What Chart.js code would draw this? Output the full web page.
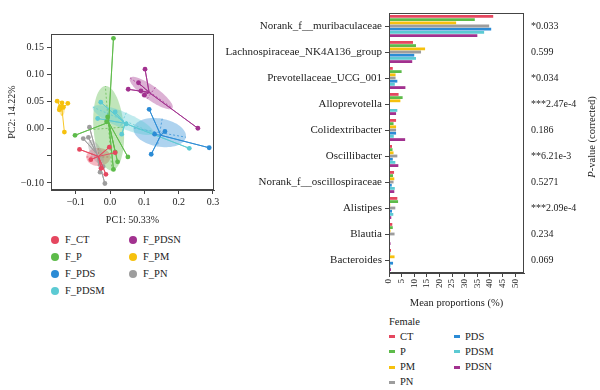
<!DOCTYPE html>
<html>
<head>
<meta charset="utf-8">
<title>PCA and mean proportions</title>
<script src="https://cdn.jsdelivr.net/npm/chart.js@4.4.0/dist/chart.umd.min.js"></script>
<style>
body{margin:0;background:#fff;font-family:'Liberation Serif',serif;color:#222;}
#wrap{position:relative;width:600px;height:390px;overflow:hidden;}
canvas{position:absolute;}
.lg{position:absolute;font-size:10.5px;line-height:12px;height:12px;white-space:nowrap;}
.dot{position:absolute;width:8px;height:8px;border-radius:50%;}
.dash{position:absolute;width:6px;height:3px;}
</style>
</head>
<body>
<div id="wrap">
<canvas id="pca" width="225" height="230" style="left:0;top:0;"></canvas>
<canvas id="bars" width="375" height="312" style="left:225px;top:0;"></canvas>
<div class="lg" style="left:532px;top:131px;width:120px;text-align:center;transform:rotate(-90deg);"><i>P</i>-value (corrected)</div>
</div>

<script>
// ---- PCA (left) ----
var groups = ['F_CT', 'F_P', 'F_PDS', 'F_PDSM', 'F_PDSN', 'F_PM', 'F_PN'];
var groupColors = ['#e5475f', '#5dbb4a', '#2b8bd5', '#5ccad3', '#a2318f', '#f6c10e', '#9d9d9d'];

var ctCentroid = [-0.034, -0.051];
var ctPoints = [[-0.089, -0.038], [-0.056, -0.057], [-0.012, -0.084], [-0.026, -0.073], [-0.002, -0.034], [0.015, -0.044]];
var pCentroid = [-0.004, 0.012];
var pPoints = [[0.010, 0.167], [-0.102, -0.012], [0.052, -0.052], [0.010, -0.075], [0.022, -0.061], [-0.007, 0.022], [-0.010, 0.013], [0.015, -0.043]];
var pdsCentroid = [0.148, -0.012];
var pdsPoints = [[0.114, 0.036], [0.120, -0.047], [0.289, -0.035], [0.160, -0.005], [0.130, -0.010]];
var pdsmCentroid = [0.044, 0.010];
var pdsmPoints = [[-0.027, 0.049], [-0.036, 0.019], [0.015, 0.031], [0.034, -0.010], [0.231, -0.036], [0.047, 0.009]];
var pdsnCentroid = [0.114, 0.067];
var pdsnPoints = [[0.102, 0.110], [0.083, 0.085], [0.053, 0.073], [0.100, 0.062], [0.256, 0.001], [0.090, 0.070]];
var pmCentroid = [-0.140, 0.036];
var pmPoints = [[-0.154, 0.051], [-0.140, 0.048], [-0.123, 0.047], [-0.146, 0.040], [-0.136, 0.040], [-0.148, 0.035], [-0.133, -0.006]];
var pnCentroid = [-0.039, -0.046];
var pnPoints = [[-0.060, 0.003], [-0.078, -0.018], [-0.063, -0.016], [-0.020, -0.070], [-0.015, -0.101], [-0.029, -0.080]];

// ellipse: centre x, centre y, semi-axis a (dx, dy), semi-axis b (dx, dy)
var ctEllipse = [-0.034, -0.052, 0.035, 0, 0, 0.0167];
var pEllipse = [-0.004, 0.001, -0.0096, 0.078, 0.044, 0.002];
var pdsEllipse = [0.145, -0.007, 0.076, -0.0085, -0.007, -0.0256];
var pdsmEllipse = [0.038, 0.016, -0.088, 0.024, -0.0092, -0.0136];
var pdsnEllipse = [0.120, 0.066, 0.0617, -0.028, -0.0119, -0.0106];
var pmEllipse = [-0.140, 0.036, 0, 0.012, 0.008, 0];
var pnEllipse = [-0.041, -0.043, 0.0175, -0.022, 0.0146, 0.0046];

var pcaXTicks = [-0.1, 0, 0.1, 0.2, 0.3];
var pcaXLabels = ['\u22120.1', '0.0', '0.1', '0.2', '0.3'];
var pcaYTicks = [-0.10, -0.05, 0, 0.05, 0.10, 0.15];
var pcaYLabels = ['\u22120.10', '', '0.00', '0.05', '0.10', '0.15'];

// ---- mean proportions (right) ----
var taxa = ['Norank_f__muribaculaceae', 'Lachnospiraceae_NK4A136_group', 'Prevotellaceae_UCG_001', 'Alloprevotella',
  'Colidextribacter', 'Oscillibacter', 'Norank_f__oscillospiraceae', 'Alistipes', 'Blautia', 'Bacteroides'];
var pValues = ['*0.033', '0.599', '*0.034', '***2.47e-4', '0.186', '**6.21e-3', '0.5271', '***2.09e-4', '0.234', '0.069'];
var barGroups = ['CT', 'P', 'PM', 'PN', 'PDS', 'PDSM', 'PDSN'];
var barColors = ['#e5475f', '#5dbb4a', '#f6c10e', '#9d9d9d', '#2b8bd5', '#5ccad3', '#a2318f'];
var ctMeans   = [41.3, 9.5, 1.5, 3.8, 2.8, 1.2, 2.0, 3.3, 1.3, 0.8];
var pMeans    = [34.0, 10.7, 5.0, 5.4, 1.8, 1.4, 1.6, 3.6, 1.5, 0.5];
var pmMeans   = [26.6, 14.3, 2.6, 4.5, 2.8, 1.8, 2.1, 0.5, 0.6, 2.2];
var pnMeans   = [39.7, 12.7, 2.6, 0.1, 2.8, 3.3, 1.8, 2.5, 2.2, 0.4];
var pdsMeans  = [40.5, 10.0, 3.3, 0.2, 2.8, 1.5, 1.1, 1.2, 0.2, 1.6];
var pdsmMeans = [37.7, 10.7, 2.3, 3.3, 1.9, 2.5, 2.3, 1.7, 0.4, 0.6];
var pdsnMeans = [35.0, 9.2, 6.5, 2.8, 6.4, 3.7, 2.1, 0.9, 0.6, 0.8];
var propTicks = [0, 5, 10, 15, 20, 25, 30, 35, 40, 45, 50];

Chart.defaults.font.family = "'Liberation Serif', serif";
Chart.defaults.color = '#222';

function alpha(hex, a) {
  var n = parseInt(hex.slice(1), 16);
  return 'rgba(' + (n >> 16) + ',' + ((n >> 8) & 255) + ',' + (n & 255) + ',' + a + ')';
}

var boxPlugin = {
  id: 'box',
  afterDraw: function(chart) {
    var a = chart.chartArea, c = chart.ctx;
    c.save();
    c.strokeStyle = '#444';
    c.lineWidth = 1;
    c.strokeRect(Math.round(a.left) + 0.5, Math.round(a.top) + 0.5, Math.round(a.right - a.left) - 1, Math.round(a.bottom - a.top) - 1);
    c.restore();
  }
};

var ellipses = [ctEllipse, pEllipse, pdsEllipse, pdsmEllipse, pdsnEllipse, pmEllipse, pnEllipse];
var ellipsePlugin = {
  id: 'ellipses',
  beforeDatasetsDraw: function(chart) {
    var xs = chart.scales.x, ys = chart.scales.y, c = chart.ctx, ar = chart.chartArea;
    c.save();
    c.beginPath();
    c.rect(ar.left, ar.top, ar.right - ar.left, ar.bottom - ar.top);
    c.clip();
    ellipses.forEach(function(e, i) {
      var cx = xs.getPixelForValue(e[0]), cy = ys.getPixelForValue(e[1]);
      var ax = xs.getPixelForValue(e[0] + e[2]) - cx, ay = ys.getPixelForValue(e[1] + e[3]) - cy;
      var bx = xs.getPixelForValue(e[0] + e[4]) - cx, by = ys.getPixelForValue(e[1] + e[5]) - cy;
      c.beginPath();
      for (var k = 0; k <= 72; k++) {
        var t = k / 72 * 2 * Math.PI;
        var px = cx + Math.cos(t) * ax + Math.sin(t) * bx;
        var py = cy + Math.cos(t) * ay + Math.sin(t) * by;
        if (k) c.lineTo(px, py); else c.moveTo(px, py);
      }
      c.fillStyle = alpha(groupColors[i], 0.38);
      c.fill();
      c.setLineDash([2, 2]);
      c.strokeStyle = alpha(groupColors[i], 0.9);
      c.lineWidth = 0.8;
      c.beginPath();
      c.moveTo(cx - ax, cy - ay); c.lineTo(cx + ax, cy + ay);
      c.moveTo(cx - bx, cy - by); c.lineTo(cx + bx, cy + by);
      c.stroke();
      c.setLineDash([]);
    });
    c.restore();
  }
};

var centroids = [ctCentroid, pCentroid, pdsCentroid, pdsmCentroid, pdsnCentroid, pmCentroid, pnCentroid];
var pointSets = [ctPoints, pPoints, pdsPoints, pdsmPoints, pdsnPoints, pmPoints, pnPoints];
var pcaDatasets = groups.map(function(g, i) {
  var data = [];
  pointSets[i].forEach(function(p) {
    data.push({x: centroids[i][0], y: centroids[i][1]});
    data.push({x: p[0], y: p[1]});
  });
  return {
    label: g,
    data: data,
    showLine: true,
    borderColor: groupColors[i],
    borderWidth: 0.9,
    pointBackgroundColor: groupColors[i],
    pointBorderWidth: 0,
    pointRadius: function(ctx) { return ctx.dataIndex % 2 === 0 ? 0 : 2.4; }
  };
});

new Chart(document.getElementById('pca').getContext('2d'), {
  type: 'scatter',
  data: {datasets: pcaDatasets},
  plugins: [ellipsePlugin, boxPlugin],
  options: {
    responsive: false,
    animation: false,
    layout: {padding: {top: 34, right: 11, left: 0, bottom: 0}},
    plugins: {legend: {display: false}, tooltip: {enabled: false}},
    scales: {
      x: {
        type: 'linear', min: -0.172, max: 0.303,
        afterBuildTicks: function(s) { s.ticks = pcaXTicks.map(function(v) { return {value: v}; }); },
        afterFit: function(s) { s.height = 40; },
        ticks: {font: {size: 10}, padding: 2, maxRotation: 0, callback: function(v, i) { return pcaXLabels[i]; }},
        grid: {drawOnChartArea: false, tickLength: 4, color: '#444'},
        border: {display: true, color: '#444'},
        title: {display: true, text: 'PC1: 50.33%', font: {size: 10}, padding: {top: 0, bottom: 4}}
      },
      y: {
        type: 'linear', min: -0.113, max: 0.175,
        afterBuildTicks: function(s) { s.ticks = pcaYTicks.map(function(v) { return {value: v}; }); },
        afterFit: function(s) { s.width = 51; },
        ticks: {font: {size: 10}, padding: 3, callback: function(v, i) { return pcaYLabels[i]; }},
        grid: {drawOnChartArea: false, tickLength: 4, color: '#444'},
        border: {display: true, color: '#444'},
        title: {display: true, text: 'PC2: 14.22%', font: {size: 10}, padding: {top: 6, bottom: 0}}
      }
    }
  }
});

var barSeries = [ctMeans, pMeans, pmMeans, pnMeans, pdsMeans, pdsmMeans, pdsnMeans];
new Chart(document.getElementById('bars').getContext('2d'), {
  type: 'bar',
  data: {
    labels: taxa,
    datasets: barGroups.map(function(g, i) {
      return {label: g, data: barSeries[i], backgroundColor: barColors[i], borderWidth: 0,
        categoryPercentage: 0.86, barPercentage: 0.88};
    })
  },
  plugins: [boxPlugin],
  options: {
    indexAxis: 'y',
    responsive: false,
    animation: false,
    layout: {padding: {top: 2, right: 0, left: 0, bottom: 0}},
    plugins: {legend: {display: false}, tooltip: {enabled: false}},
    scales: {
      x: {
        type: 'linear', min: 0, max: 53.5,
        afterBuildTicks: function(s) { s.ticks = propTicks.map(function(v) { return {value: v}; }); },
        afterFit: function(s) { s.height = 39; },
        ticks: {font: {size: 9}, padding: 2, minRotation: 90, maxRotation: 90, autoSkip: false},
        grid: {drawOnChartArea: false, tickLength: 4, color: '#444'},
        border: {display: true, color: '#444'},
        title: {display: true, text: 'Mean proportions (%)', font: {size: 10.5}, padding: {top: 0, bottom: 2}}
      },
      y: {
        type: 'category',
        afterFit: function(s) { s.width = 164; },
        ticks: {font: {size: 11}, padding: 3, autoSkip: false},
        grid: {drawOnChartArea: false, offset: false, tickLength: 4, color: '#444'},
        border: {display: true, color: '#444'}
      },
      y2: {
        type: 'category',
        position: 'right',
        labels: pValues,
        offset: true,
        afterFit: function(s) { s.width = 76; },
        ticks: {font: {size: 10}, padding: 7, autoSkip: false},
        grid: {display: false, drawTicks: false},
        border: {display: false}
      }
    }
  }
});

// ---- legends (html) ----
var wrap = document.getElementById('wrap');
function addText(txt, left, cy) {
  var d = document.createElement('div');
  d.className = 'lg';
  d.style.left = left + 'px';
  d.style.top = (cy - 6) + 'px';
  d.textContent = txt;
  wrap.appendChild(d);
}
function addMark(cls, color, left, top) {
  var d = document.createElement('div');
  d.className = cls;
  d.style.left = left + 'px';
  d.style.top = top + 'px';
  d.style.background = color;
  wrap.appendChild(d);
}

var pcaLegendOrder = ['F_CT', 'F_P', 'F_PDS', 'F_PDSM', 'F_PDSN', 'F_PM', 'F_PN'];
pcaLegendOrder.forEach(function(g, k) {
  var col = k < 4 ? 0 : 1, row = k < 4 ? k : k - 4;
  var cx = col ? 133 : 55, cy = 239.5 + row * 17;
  addMark('dot', groupColors[groups.indexOf(g)], cx - 4, cy - 4);
  addText(g, cx + 10, cy);
});

addText('Female', 389, 322);
barGroups.forEach(function(g, k) {
  var col = k < 4 ? 0 : 1, row = k < 4 ? k : k - 4;
  var x = col ? 454 : 389, cy = 336.7 + row * 15.2;
  addMark('dash', barColors[k], x, cy - 1.5);
  addText(g, x + 11, cy);
});
</script>
</body>
</html>
